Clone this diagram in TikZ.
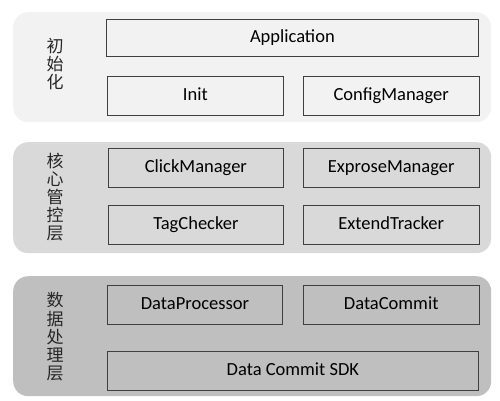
\documentclass[tikz,border=0pt]{standalone}
\usepackage{fontspec}
\setmainfont{Carlito}
\newfontfamily\cjk{Noto Sans CJK SC}
\usetikzlibrary{positioning}
\usepackage{xcolor}
\definecolor{layerInit}{HTML}{F2F2F2}
\definecolor{layerCore}{HTML}{D9D9D9}
\definecolor{layerData}{HTML}{BFBFBF}
\definecolor{boxLine}{HTML}{3F3F3F}

\begin{document}
\begin{tikzpicture}
[x=1pt, y=-1pt,
% The layer style is used to draw the rounded background of each layer
layer/.style={rectangle, rounded corners=15pt, draw=none, anchor=north west, inner sep=0pt, minimum width=478pt},
% The module style is used to draw the modules inside a layer
module/.style={rectangle, draw=boxLine, line width=0.8pt, anchor=north west, inner sep=0pt, text height=12.5pt, text depth=3.5pt, minimum height=38pt, text=black, font=\fontsize{18.5}{20}\selectfont},
% The title style is used to write the layers' name
title/.style={align=center, inner sep=0pt, text=black!85, font=\cjk\fontsize{17}{18.2}\selectfont}
]
\useasboundingbox (0,0) rectangle (500,401);
% Draw layers
\node [layer, fill=layerInit, minimum height=110pt] (initLayer) at (13,12) {};
\node [layer, fill=layerCore, minimum height=111pt] (coreLayer) at (13,142) {};
\node [layer, fill=layerData, minimum height=120pt] (dataLayer) at (13,276) {};

\node [title] (initTitle) at (55,64) {初\\始\\化};
\node [title] (coreTitle) at (55,197) {核\\心\\管\\控\\层};
\node [title] (dataTitle) at (55,337) {数\\据\\处\\理\\层};

% Draw modules
\node [module, minimum width=372pt, minimum height=37pt] (application) at (106,19) {Application};
\node [module, minimum width=176pt, minimum height=39pt] (init) at (107,76) {Init};
\node [module, minimum width=176pt, minimum height=39pt, right=19pt of init] (config) {ConfigManager};

\node [module, minimum width=175pt, minimum height=39pt] (click) at (108,148) {ClickManager};
\node [module, minimum width=176pt, minimum height=39pt, right=19pt of click] (exprose) {ExproseManager};
\node [module, minimum width=175pt, minimum height=39pt, below=17pt of click] (tag) {TagChecker};
\node [module, minimum width=176pt, minimum height=39pt, right=19pt of tag] (extend) {ExtendTracker};

\node [module, minimum width=175pt, minimum height=39pt] (processor) at (107,285) {DataProcessor};
\node [module, minimum width=176pt, minimum height=39pt, right=20pt of processor] (commit) {DataCommit};
\node [module, minimum width=371pt, minimum height=39pt] (sdk) at (107,351) {Data Commit SDK};
\end{tikzpicture}
\end{document}
